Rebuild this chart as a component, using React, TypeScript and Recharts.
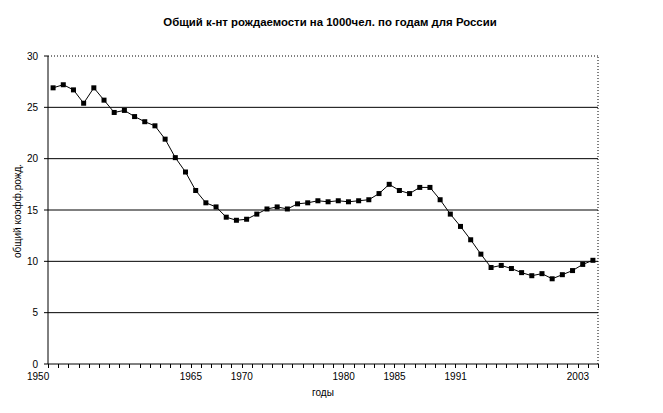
import React from "react"
import { ComposedChart, Line, Scatter, XAxis, YAxis, CartesianGrid, ReferenceLine, Customized } from "recharts"

const years = [
  1950, 1951, 1952, 1953, 1954, 1955, 1956, 1957, 1958, 1959,
  1960, 1961, 1962, 1963, 1964, 1965, 1966, 1967, 1968, 1969,
  1970, 1971, 1972, 1973, 1974, 1975, 1976, 1977, 1978, 1979,
  1980, 1981, 1982, 1983, 1984, 1985, 1986, 1987, 1988, 1989,
  1990, 1991, 1992, 1993, 1994, 1995, 1996, 1997, 1998, 1999,
  2000, 2001, 2002, 2003,
]

// общий коэффициент рождаемости на 1000 чел.
const birthRate = [
  26.9, 27.2, 26.7, 25.4, 26.9, 25.7, 24.5, 24.7, 24.1, 23.6,
  23.2, 21.9, 20.1, 18.7, 16.9, 15.7, 15.3, 14.3, 14.0, 14.1,
  14.6, 15.1, 15.3, 15.1, 15.6, 15.7, 15.9, 15.8, 15.9, 15.8,
  15.9, 16.0, 16.6, 17.5, 16.9, 16.6, 17.2, 17.2, 16.0, 14.6,
  13.4, 12.1, 10.7, 9.4, 9.6, 9.3, 8.9, 8.6, 8.8, 8.3,
  8.7, 9.1, 9.7, 10.1,
]

const labelYears = [1950, 1965, 1970, 1980, 1985, 1991, 2003]
const yTicks = [0, 5, 10, 15, 20, 25, 30]
const gridValues = [5, 10, 15, 20, 25]

// x is measured in half-categories: a point sits at an odd slot,
// the tick marks between categories at even slots (Excel style)
const slotOf = (year: number) => 2 * (year - years[0]) + 1
const data = years.map((year, i) => ({ slot: slotOf(year), value: birthRate[i] }))
const tickMarks = years.map((_, i) => ({ slot: 2 * i, value: 0 })).concat({ slot: 2 * years.length, value: 0 })
const labelSlots = labelYears.map(slotOf)
const xDomain = [0, 2 * years.length]

const FONT = "'Liberation Sans', Arial, sans-serif"

function XLabel(props: any) {
  const { x, y, payload } = props
  return (
    <text x={x - 15} y={y + 16} textAnchor="middle" fontSize={10} fontFamily={FONT} fill="#000">
      {years[0] + (payload.value - 1) / 2}
    </text>
  )
}

function TickMark(props: any) {
  const { cx, cy } = props
  const x = Math.round(cx) + 0.5
  return <path d={`M${x},${cy}V${cy + 4}`} stroke="#000" strokeWidth={1} fill="none" />
}

function SquareDot(props: any) {
  const { cx, cy, index } = props
  return <rect key={index} x={cx - 2.5} y={cy - 2.5} width={5} height={5} fill="#000" />
}

function Titles() {
  return (
    <g fontFamily={FONT}>
      <text x={330} y={26} textAnchor="middle" fontSize={11.4} fontWeight="bold" fill="#000">
        Общий к-нт рождаемости на 1000чел. по годам для России
      </text>
      <text x={323} y={396} textAnchor="middle" fontSize={10} fill="#000">
        годы
      </text>
      <text x={21} y={211} textAnchor="middle" fontSize={10} fill="#000" transform="rotate(-90 21 211)">
        общий коэфф.рожд.
      </text>
    </g>
  )
}

export default function App() {
  return (
    <div style={{ position: "absolute", left: 0, top: 0, background: "#fff" }}>
      <ComposedChart width={663} height={413} data={data} margin={{ top: 56, right: 65, bottom: 0, left: 0 }}>
        <CartesianGrid vertical={false} horizontalValues={gridValues} stroke="#000" strokeWidth={1} />
        <ReferenceLine y={30} stroke="#000" strokeDasharray="1 2" />
        <ReferenceLine x={xDomain[1]} stroke="#000" strokeDasharray="1 2" />
        <XAxis
          dataKey="slot"
          type="number"
          domain={xDomain}
          ticks={labelSlots}
          interval={0}
          height={49}
          tickSize={0}
          tickMargin={0}
          tickLine={false}
          axisLine={{ stroke: "#000" }}
          tick={(p: any) => <XLabel {...p} />}
        />
        <YAxis
          domain={[0, 30]}
          ticks={yTicks}
          interval={0}
          width={48}
          tickSize={4}
          tickMargin={6}
          axisLine={{ stroke: "#000" }}
          tickLine={{ stroke: "#000" }}
          tick={{ fontSize: 10, fill: "#000", fontFamily: FONT }}
        />
        <Scatter data={tickMarks} dataKey="value" shape={TickMark} isAnimationActive={false} />
        <Line
          type="linear"
          dataKey="value"
          stroke="#000"
          strokeWidth={1}
          dot={SquareDot}
          activeDot={false}
          isAnimationActive={false}
        />
        <Customized component={Titles} />
      </ComposedChart>
    </div>
  )
}
